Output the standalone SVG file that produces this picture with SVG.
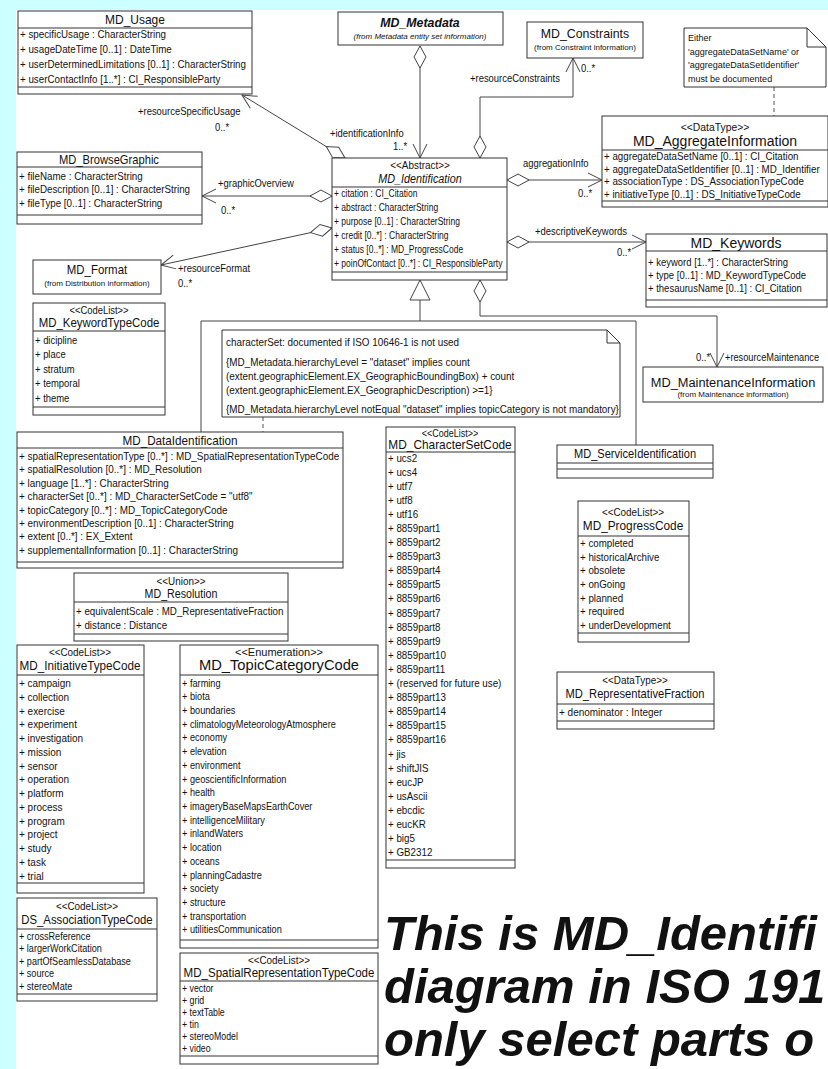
<svg xmlns="http://www.w3.org/2000/svg" width="828" height="1069" viewBox="0 0 828 1069">
<style>
  .bx{fill:#fff;stroke:#333;stroke-width:1}
  .dv{stroke:#333;stroke-width:1;fill:none}
  .c{fill:none;stroke:#444;stroke-width:1}
  .dash{fill:none;stroke:#555;stroke-width:1;stroke-dasharray:4,3}
  text{font-family:"Liberation Sans",Arial,sans-serif;fill:#111}
  .m{text-anchor:middle}
  .i{font-style:italic}
  .f8{font-size:8px}
  .f95{font-size:9.5px}
  .f10{font-size:10px}
  .f105{font-size:10.5px}
  .f11{font-size:11px}
  .f115{font-size:11.5px}
  .f125{font-size:12.5px}
  .f13{font-size:13px}
  .f135{font-size:13.5px}
  .f14{font-size:14px}
  .big{font-size:49px;font-weight:bold;font-style:italic}
</style>
<defs>
  <marker id="dia" viewBox="0 0 24 14" refX="1" refY="7" markerWidth="24" markerHeight="14" orient="auto" markerUnits="userSpaceOnUse">
    <path d="M1,7 L12,1 L23,7 L12,13 Z" fill="#fff" stroke="#444"/>
  </marker>
  <marker id="arr" viewBox="0 0 16 16" refX="15" refY="8" markerWidth="16" markerHeight="16" orient="auto" markerUnits="userSpaceOnUse">
    <path d="M1,1 L15,8 L1,15" fill="none" stroke="#444"/>
  </marker>
</defs>

<!-- page background with light cyan margins -->
<rect x="0" y="0" width="828" height="1069" fill="#fff"/>
<rect x="0" y="0" width="828" height="10" fill="#ccffff"/>
<rect x="0" y="0" width="16" height="1069" fill="#ccffff"/>

<!-- associations, aggregations and generalization -->
<g id="connectors">
  <path class="c" d="M420,46 L420,158" marker-start="url(#dia)" marker-end="url(#arr)"/>
  <path class="c" d="M480,158 L480,97 L573,97 L573,58" marker-start="url(#dia)" marker-end="url(#arr)"/>
  <path class="c" d="M345,158 L242,95" marker-start="url(#dia)" marker-end="url(#arr)"/>
  <path class="c" d="M332,196 L202,196" marker-start="url(#dia)" marker-end="url(#arr)"/>
  <path class="c" d="M332,228 L161,265" marker-start="url(#dia)" marker-end="url(#arr)"/>
  <path class="c" d="M507,180 L602,180" marker-start="url(#dia)" marker-end="url(#arr)"/>
  <path class="c" d="M507,242 L646,242" marker-start="url(#dia)" marker-end="url(#arr)"/>
  <path class="c" d="M480,280 L480,316 L717,316 L717,367" marker-start="url(#dia)" marker-end="url(#arr)"/>
  <path class="c" d="M420,300 L420,321 M201,432 L201,321 L636,321 L636,445"/>
  <polygon points="420,280 430,300 410,300" fill="#fff" stroke="#444"/>
  <path class="dash" d="M774,87 L774,116 M263,417 L263,432"/>

  <text class="f105" transform="translate(330,137) scale(.9,1)">+identificationInfo</text>
  <text class="f105" transform="translate(393,150) scale(.9,1)">1..*</text>
  <text class="f105" transform="translate(470,82) scale(.9,1)">+resourceConstraints</text>
  <text class="f105" transform="translate(581,72) scale(.9,1)">0..*</text>
  <text class="f105" transform="translate(138,115) scale(.9,1)">+resourceSpecificUsage</text>
  <text class="f105" transform="translate(215,131) scale(.9,1)">0..*</text>
  <text class="f105" transform="translate(218,187) scale(.9,1)">+graphicOverview</text>
  <text class="f105" transform="translate(221,214) scale(.9,1)">0..*</text>
  <text class="f105" transform="translate(178,272) scale(.9,1)">+resourceFormat</text>
  <text class="f105" transform="translate(178,287) scale(.9,1)">0..*</text>
  <text class="f105" transform="translate(523,167) scale(.9,1)">aggregationInfo</text>
  <text class="f105" transform="translate(578,197) scale(.9,1)">0..*</text>
  <text class="f105" transform="translate(535,235) scale(.9,1)">+descriptiveKeywords</text>
  <text class="f105" transform="translate(617,256) scale(.9,1)">0..*</text>
  <text class="f105" transform="translate(696,361) scale(.9,1)">0..*</text>
  <text class="f105" transform="translate(725,361) scale(.88,1)">+resourceMaintenance</text>
</g>

<g id="MD_Usage">
  <rect class="bx" x="18" y="11" width="234" height="83"/>
  <path class="dv" d="M18,28 H252 M18,87 H252"/>
  <text class="f13 m" transform="translate(135,24) scale(.92,1)">MD_Usage</text>
  <text class="f11" transform="translate(20,38) scale(.89,1)"><tspan x="0" y="0">+ specificUsage : CharacterString</tspan><tspan x="0" dy="15">+ usageDateTime [0..1] : DateTime</tspan><tspan x="0" dy="15">+ userDeterminedLimitations [0..1] : CharacterString</tspan><tspan x="0" dy="15">+ userContactInfo [1..*] : CI_ResponsibleParty</tspan></text>
</g>

<g id="MD_Metadata">
  <rect class="bx" x="338" y="12" width="165" height="33"/>
  <text class="f13 m i" font-weight="bold" transform="translate(420,27) scale(.95,1)">MD_Metadata</text>
  <text class="f8 m i" x="420" y="39">(from Metadata entity set information)</text>
</g>

<g id="MD_Constraints">
  <rect class="bx" x="527" y="22" width="116" height="36"/>
  <text class="f13 m" transform="translate(585,38) scale(.95,1)">MD_Constraints</text>
  <text class="f8 m" x="585" y="50">(from Constraint information)</text>
</g>

<g id="note_aggregate">
  <path class="bx" d="M684,28 H807 L826,47 V87 H684 Z"/>
  <path class="dv" d="M807,28 V47 H826"/>
  <text class="f95" transform="translate(688,41) scale(.95,1)"><tspan x="0" y="0">Either</tspan><tspan x="0" dy="13.7">'aggregateDataSetName' or</tspan><tspan x="0" dy="13.7">'aggregateDataSetIdentifier'</tspan><tspan x="0" dy="13.7">must be documented</tspan></text>
</g>

<g id="MD_AggregateInformation">
  <rect class="bx" x="602" y="116" width="226" height="91"/>
  <path class="dv" d="M602,150 H828 M602,201 H828"/>
  <text class="f115 m" transform="translate(715,131) scale(.9,1)">&lt;&lt;DataType&gt;&gt;</text>
  <text class="f14 m" transform="translate(715,146)">MD_AggregateInformation</text>
  <text class="f115" transform="translate(604,160) scale(.85,1)"><tspan x="0" y="0">+ aggregateDataSetName [0..1] : CI_Citation</tspan><tspan x="0" dy="12.7">+ aggregateDataSetIdentifier [0..1] : MD_Identifier</tspan><tspan x="0" dy="12.7">+ associationType : DS_AssociationTypeCode</tspan><tspan x="0" dy="12.7">+ initiativeType [0..1] : DS_InitiativeTypeCode</tspan></text>
</g>

<g id="MD_BrowseGraphic">
  <rect class="bx" x="17" y="152" width="185" height="72"/>
  <path class="dv" d="M17,167 H202 M17,215 H202"/>
  <text class="f13 m" transform="translate(109,164) scale(.86,1)">MD_BrowseGraphic</text>
  <text class="f11" transform="translate(19,180) scale(.89,1)"><tspan x="0" y="0">+ fileName : CharacterString</tspan><tspan x="0" dy="13.5">+ fileDescription [0..1] : CharacterString</tspan><tspan x="0" dy="13.5">+ fileType [0..1] : CharacterString</tspan></text>
</g>

<g id="MD_Format">
  <rect class="bx" x="33" y="260" width="128" height="34"/>
  <text class="f13 m" transform="translate(97,274) scale(.88,1)">MD_Format</text>
  <text class="f8 m" x="97" y="286">(from Distribution information)</text>
</g>

<g id="MD_KeywordTypeCode">
  <rect class="bx" x="33" y="303" width="132" height="112"/>
  <path class="dv" d="M33,331 H165 M33,407 H165"/>
  <text class="f105 m" transform="translate(99,314) scale(.9,1)">&lt;&lt;CodeList&gt;&gt;</text>
  <text class="f13 m" transform="translate(99,327) scale(.88,1)">MD_KeywordTypeCode</text>
  <text class="f105" transform="translate(35,344) scale(.9,1)"><tspan x="0" y="0">+ dicipline</tspan><tspan x="0" dy="14.5">+ place</tspan><tspan x="0" dy="14.5">+ stratum</tspan><tspan x="0" dy="14.5">+ temporal</tspan><tspan x="0" dy="14.5">+ theme</tspan></text>
</g>

<g id="MD_Identification">
  <rect class="bx" x="332" y="158" width="175" height="122"/>
  <path class="dv" d="M332,187 H507 M332,272 H507"/>
  <text class="f11 m" transform="translate(420,169) scale(.9,1)">&lt;&lt;Abstract&gt;&gt;</text>
  <text class="f135 m i" transform="translate(420,183) scale(.8,1)">MD_Identification</text>
  <text class="f105" transform="translate(334,197) scale(.81,1)"><tspan x="0" y="0">+ citation : CI_Citation</tspan><tspan x="0" dy="14">+ abstract : CharacterString</tspan><tspan x="0" dy="14">+ purpose [0..1] : CharacterString</tspan><tspan x="0" dy="14">+ credit [0..*] : CharacterString</tspan><tspan x="0" dy="14">+ status [0..*] : MD_ProgressCode</tspan><tspan x="0" dy="14">+ poinOfContact [0..*] : CI_ResponsibleParty</tspan></text>
</g>

<g id="MD_Keywords">
  <rect class="bx" x="646" y="234" width="181" height="73"/>
  <path class="dv" d="M646,251 H827 M646,300 H827"/>
  <text class="f14 m" transform="translate(736,248)">MD_Keywords</text>
  <text class="f10" transform="translate(648,266) scale(.95,1)"><tspan x="0" y="0">+ keyword  [1..*] : CharacterString</tspan><tspan x="0" dy="13">+ type [0..1] : MD_KeywordTypeCode</tspan><tspan x="0" dy="13">+ thesaurusName [0..1] : CI_Citation</tspan></text>
</g>

<g id="MD_MaintenanceInformation">
  <rect class="bx" x="643" y="367" width="180" height="35"/>
  <text class="f135 m" transform="translate(733,387) scale(.95,1)">MD_MaintenanceInformation</text>
  <text class="f8 m" x="733" y="397">(from Maintenance information)</text>
</g>

<g id="note_constraints">
  <path class="bx" d="M222,330 H607 L620,343 V417 H222 Z"/>
  <path class="dv" d="M607,330 V343 H620"/>
  <text class="f11" transform="translate(226,346) scale(.9,1)"><tspan x="0" y="0">characterSet: documented if ISO 10646-1 is not used</tspan><tspan x="0" y="20">{MD_Metadata.hierarchyLevel = "dataset" implies count</tspan><tspan x="0" y="34">(extent.geographicElement.EX_GeographicBoundingBox) + count</tspan><tspan x="0" y="48">(extent.geographicElement.EX_GeographicDescription) &gt;=1}</tspan><tspan x="0" y="67">{MD_Metadata.hierarchyLevel notEqual "dataset" implies topicCategory is not mandatory}</tspan></text>
</g>

<g id="MD_DataIdentification">
  <rect class="bx" x="17" y="432" width="326" height="136"/>
  <path class="dv" d="M17,448 H343 M17,562 H343"/>
  <text class="f13 m" transform="translate(180,445) scale(.9,1)">MD_DataIdentification</text>
  <text class="f11" transform="translate(19,460) scale(.9,1)"><tspan x="0" y="0">+ spatialRepresentationType [0..*] : MD_SpatialRepresentationTypeCode</tspan><tspan x="0" dy="13.4">+ spatialResolution [0..*] : MD_Resolution</tspan><tspan x="0" dy="13.4">+ language [1..*] : CharacterString</tspan><tspan x="0" dy="13.4">+ characterSet [0..*] : MD_CharacterSetCode = "utf8"</tspan><tspan x="0" dy="13.4">+ topicCategory [0..*] : MD_TopicCategoryCode</tspan><tspan x="0" dy="13.4">+ environmentDescription [0..1] : CharacterString</tspan><tspan x="0" dy="13.4">+ extent [0..*] : EX_Extent</tspan><tspan x="0" dy="13.4">+ supplementalInformation [0..1] : CharacterString</tspan></text>
</g>

<g id="MD_Resolution">
  <rect class="bx" x="74" y="573" width="214" height="68"/>
  <path class="dv" d="M74,602 H288 M74,634 H288"/>
  <text class="f11 m" transform="translate(181,585) scale(.9,1)">&lt;&lt;Union&gt;&gt;</text>
  <text class="f13 m" transform="translate(181,598) scale(.82,1)">MD_Resolution</text>
  <text class="f11" transform="translate(76,615) scale(.89,1)"><tspan x="0" y="0">+ equivalentScale : MD_RepresentativeFraction</tspan><tspan x="0" dy="14">+ distance : Distance</tspan></text>
</g>

<g id="MD_CharacterSetCode">
  <rect class="bx" x="386" y="427" width="129" height="441"/>
  <path class="dv" d="M386,452 H515 M386,860 H515"/>
  <text class="f10 m" transform="translate(450,436.5) scale(.9,1)">&lt;&lt;CodeList&gt;&gt;</text>
  <text class="f125 m" transform="translate(450,449) scale(.95,1)">MD_CharacterSetCode</text>
  <text class="f11" transform="translate(388,461.5) scale(.89,1)"><tspan x="0" y="0">+ ucs2</tspan><tspan x="0" dy="14.1">+ ucs4</tspan><tspan x="0" dy="14.1">+ utf7</tspan><tspan x="0" dy="14.1">+ utf8</tspan><tspan x="0" dy="14.1">+ utf16</tspan><tspan x="0" dy="14.1">+ 8859part1</tspan><tspan x="0" dy="14.1">+ 8859part2</tspan><tspan x="0" dy="14.1">+ 8859part3</tspan><tspan x="0" dy="14.1">+ 8859part4</tspan><tspan x="0" dy="14.1">+ 8859part5</tspan><tspan x="0" dy="14.1">+ 8859part6</tspan><tspan x="0" dy="14.1">+ 8859part7</tspan><tspan x="0" dy="14.1">+ 8859part8</tspan><tspan x="0" dy="14.1">+ 8859part9</tspan><tspan x="0" dy="14.1">+ 8859part10</tspan><tspan x="0" dy="14.1">+ 8859part11</tspan><tspan x="0" dy="14.1">+ (reserved for future use)</tspan><tspan x="0" dy="14.1">+ 8859part13</tspan><tspan x="0" dy="14.1">+ 8859part14</tspan><tspan x="0" dy="14.1">+ 8859part15</tspan><tspan x="0" dy="14.1">+ 8859part16</tspan><tspan x="0" dy="14.1">+ jis</tspan><tspan x="0" dy="14.1">+ shiftJIS</tspan><tspan x="0" dy="14.1">+ eucJP</tspan><tspan x="0" dy="14.1">+ usAscii</tspan><tspan x="0" dy="14.1">+ ebcdic</tspan><tspan x="0" dy="14.1">+ eucKR</tspan><tspan x="0" dy="14.1">+ big5</tspan><tspan x="0" dy="14.1">+ GB2312</tspan></text>
</g>

<g id="MD_ServiceIdentification">
  <rect class="bx" x="557" y="445" width="156" height="33"/>
  <path class="dv" d="M557,463 H713 M557,469 H713"/>
  <text class="f13 m" transform="translate(635,458) scale(.85,1)">MD_ServiceIdentification</text>
</g>

<g id="MD_ProgressCode">
  <rect class="bx" x="578" y="501" width="111" height="141"/>
  <path class="dv" d="M578,536 H689 M578,633 H689"/>
  <text class="f11 m" transform="translate(633,516) scale(.9,1)">&lt;&lt;CodeList&gt;&gt;</text>
  <text class="f13 m" transform="translate(633,530) scale(.91,1)">MD_ProgressCode</text>
  <text class="f105" transform="translate(580,547) scale(.93,1)"><tspan x="0" y="0">+ completed</tspan><tspan x="0" dy="13.7">+ historicalArchive</tspan><tspan x="0" dy="13.7">+ obsolete</tspan><tspan x="0" dy="13.7">+ onGoing</tspan><tspan x="0" dy="13.7">+ planned</tspan><tspan x="0" dy="13.7">+ required</tspan><tspan x="0" dy="13.7">+ underDevelopment</tspan></text>
</g>

<g id="MD_RepresentativeFraction">
  <rect class="bx" x="557" y="672" width="157" height="57"/>
  <path class="dv" d="M557,704 H714 M557,721 H714"/>
  <text class="f11 m" transform="translate(635,684) scale(.9,1)">&lt;&lt;DataType&gt;&gt;</text>
  <text class="f13 m" transform="translate(635,698) scale(.86,1)">MD_RepresentativeFraction</text>
  <text class="f105" transform="translate(559,716) scale(.95,1)">+ denominator : Integer</text>
</g>

<g id="MD_InitiativeTypeCode">
  <rect class="bx" x="17" y="645" width="127" height="248"/>
  <path class="dv" d="M17,675 H144 M17,883 H144"/>
  <text class="f11 m" transform="translate(80,656) scale(.9,1)">&lt;&lt;CodeList&gt;&gt;</text>
  <text class="f13 m" transform="translate(80,670) scale(.9,1)">MD_InitiativeTypeCode</text>
  <text class="f105" transform="translate(19,687) scale(.95,1)"><tspan x="0" y="0">+ campaign</tspan><tspan x="0" dy="13.77">+ collection</tspan><tspan x="0" dy="13.77">+ exercise</tspan><tspan x="0" dy="13.77">+ experiment</tspan><tspan x="0" dy="13.77">+ investigation</tspan><tspan x="0" dy="13.77">+ mission</tspan><tspan x="0" dy="13.77">+ sensor</tspan><tspan x="0" dy="13.77">+ operation</tspan><tspan x="0" dy="13.77">+ platform</tspan><tspan x="0" dy="13.77">+ process</tspan><tspan x="0" dy="13.77">+ program</tspan><tspan x="0" dy="13.77">+ project</tspan><tspan x="0" dy="13.77">+ study</tspan><tspan x="0" dy="13.77">+ task</tspan><tspan x="0" dy="13.77">+ trial</tspan></text>
</g>

<g id="DS_AssociationTypeCode">
  <rect class="bx" x="17" y="898" width="140" height="103"/>
  <path class="dv" d="M17,929 H157 M17,994 H157"/>
  <text class="f11 m" transform="translate(87,910) scale(.9,1)">&lt;&lt;CodeList&gt;&gt;</text>
  <text class="f13 m" transform="translate(87,924) scale(.87,1)">DS_AssociationTypeCode</text>
  <text class="f10" transform="translate(19,940) scale(.91,1)"><tspan x="0" y="0">+ crossReference</tspan><tspan x="0" dy="12.5">+ largerWorkCitation</tspan><tspan x="0" dy="12.5">+ partOfSeamlessDatabase</tspan><tspan x="0" dy="12.5">+ source</tspan><tspan x="0" dy="12.5">+ stereoMate</tspan></text>
</g>

<g id="MD_TopicCategoryCode">
  <rect class="bx" x="180" y="645" width="198" height="303"/>
  <path class="dv" d="M180,675 H378 M180,940 H378"/>
  <text class="f11 m" transform="translate(279,656)">&lt;&lt;Enumeration&gt;&gt;</text>
  <text class="f14 m" transform="translate(279,670) scale(1.05,1)">MD_TopicCategoryCode</text>
  <text class="f105" transform="translate(182,686.5) scale(.875,1)"><tspan x="0" y="0">+ farming</tspan><tspan x="0" dy="13.72">+ biota</tspan><tspan x="0" dy="13.72">+ boundaries</tspan><tspan x="0" dy="13.72">+ climatologyMeteorologyAtmosphere</tspan><tspan x="0" dy="13.72">+ economy</tspan><tspan x="0" dy="13.72">+ elevation</tspan><tspan x="0" dy="13.72">+ environment</tspan><tspan x="0" dy="13.72">+ geoscientificInformation</tspan><tspan x="0" dy="13.72">+ health</tspan><tspan x="0" dy="13.72">+ imageryBaseMapsEarthCover</tspan><tspan x="0" dy="13.72">+ intelligenceMilitary</tspan><tspan x="0" dy="13.72">+ inlandWaters</tspan><tspan x="0" dy="13.72">+ location</tspan><tspan x="0" dy="13.72">+ oceans</tspan><tspan x="0" dy="13.72">+ planningCadastre</tspan><tspan x="0" dy="13.72">+ society</tspan><tspan x="0" dy="13.72">+ structure</tspan><tspan x="0" dy="13.72">+ transportation</tspan><tspan x="0" dy="13.72">+ utilitiesCommunication</tspan></text>
</g>

<g id="MD_SpatialRepresentationTypeCode">
  <rect class="bx" x="180" y="953" width="198" height="111"/>
  <path class="dv" d="M180,981 H378 M180,1056 H378"/>
  <text class="f11 m" transform="translate(279,964) scale(.9,1)">&lt;&lt;CodeList&gt;&gt;</text>
  <text class="f13 m" transform="translate(279,977) scale(.89,1)">MD_SpatialRepresentationTypeCode</text>
  <text class="f10" transform="translate(182,992) scale(.88,1)"><tspan x="0" y="0">+ vector</tspan><tspan x="0" dy="12">+ grid</tspan><tspan x="0" dy="12">+ textTable</tspan><tspan x="0" dy="12">+ tin</tspan><tspan x="0" dy="12">+ stereoModel</tspan><tspan x="0" dy="12">+ video</tspan></text>
</g>

<g id="caption">
  <text class="big" x="384" y="950">This is MD_Identifi</text>
  <text class="big" x="384" y="1003">diagram in ISO 191</text>
  <text class="big" x="384" y="1056">only select parts o</text>
</g>
</svg>
